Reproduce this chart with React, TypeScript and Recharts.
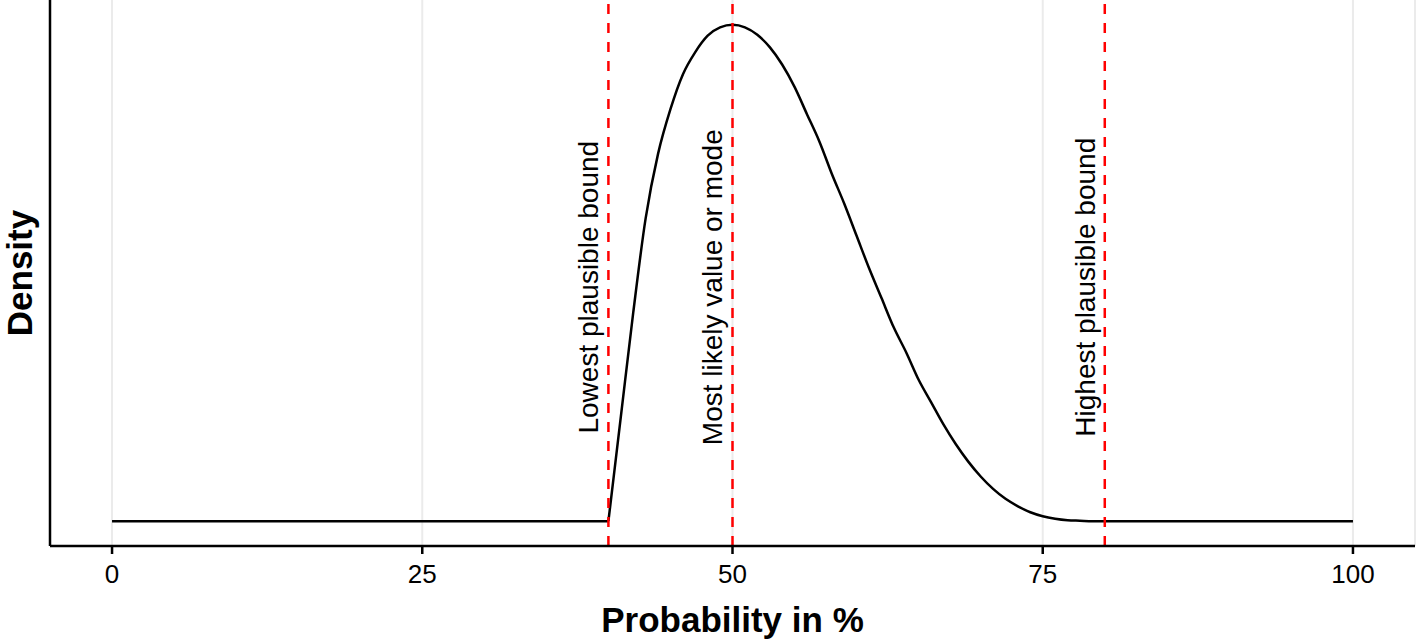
import {
  CartesianGrid,
  Label,
  Line,
  LineChart,
  ReferenceLine,
  XAxis,
  YAxis,
} from 'recharts';

// x positions (probability in %) and relative density
const probability = [
  0, 40, 41, 42, 43, 44, 45, 46, 47, 48, 49, 50, 51, 52, 53, 54, 55, 56, 57, 58, 59, 60,
  61, 62, 63, 64, 65, 66, 67, 68, 69, 70, 71, 72, 73, 74, 75, 76, 77, 78, 79, 80, 100,
];
const density = [
  0, 0, 0.21, 0.42, 0.61, 0.74, 0.83, 0.9, 0.945, 0.978, 0.995, 1, 0.995, 0.98, 0.955, 0.92,
  0.875, 0.82, 0.765, 0.7, 0.64, 0.575, 0.51, 0.45, 0.39, 0.34, 0.285, 0.24, 0.195, 0.155,
  0.12, 0.09, 0.065, 0.045, 0.03, 0.018, 0.01, 0.005, 0.002, 0.001, 0, 0, 0,
];

const xTicks = [0, 25, 50, 75, 100];

const lowerBound = 40;
const mode = 50;
const upperBound = 80;

const markers = [
  { x: lowerBound, label: 'Lowest plausible bound' },
  { x: mode, label: 'Most likely value or mode' },
  { x: upperBound, label: 'Highest plausible bound' },
];

// the hump between the bounds is drawn smooth, the flat tails straight
const data = probability.map((p, i) => {
  const inside = p >= lowerBound && p <= upperBound;
  const edge = p <= lowerBound || p >= upperBound;
  return {
    p,
    hump: inside ? density[i] : null,
    tail: edge ? density[i] : null,
  };
});
const yMax = Math.max(...density);

const FONT = '"Liberation Sans", Arial, Helvetica, sans-serif';

function MarkerLabel({ viewBox, value }: any) {
  const x = viewBox.x - 10;
  const y = viewBox.y + viewBox.height * 0.526;
  return (
    <text
      x={x}
      y={y}
      transform={`rotate(-90, ${x}, ${y})`}
      textAnchor="middle"
      fontFamily={FONT}
      fontSize={28}
      fill="#000"
    >
      {value}
    </text>
  );
}

export default function App() {
  return (
    <div style={{ position: 'absolute', left: 0, top: 0, width: 1418, height: 643, background: '#fff' }}>
      <LineChart
        width={1418}
        height={643}
        data={data}
        margin={{ top: 0, right: 3, bottom: 0, left: 0 }}
      >
        <CartesianGrid horizontal={false} stroke="#EBEBEB" strokeWidth={2} />
        <XAxis
          dataKey="p"
          type="number"
          domain={[-5, 105]}
          ticks={xTicks}
          height={97}
          axisLine={{ stroke: '#000', strokeWidth: 2.5 }}
          tickLine={{ stroke: '#000', strokeWidth: 2.5 }}
          tickSize={8}
          tickMargin={11}
          tick={{ fill: '#000', fontSize: 26, fontFamily: FONT }}
        >
          <Label
            content={({ viewBox }: any) => (
              <text
                x={viewBox.x + viewBox.width / 2}
                y={viewBox.y + 86}
                textAnchor="middle"
                fontFamily={FONT}
                fontWeight="bold"
                fontSize={35}
                fill="#000"
              >
                Probability in %
              </text>
            )}
          />
        </XAxis>
        <YAxis
          type="number"
          domain={[-0.05 * yMax, 1.05 * yMax]}
          width={50}
          tick={false}
          tickLine={false}
          axisLine={{ stroke: '#000', strokeWidth: 2.5 }}
        >
          <Label
            content={({ viewBox }: any) => {
              const x = 32;
              const y = viewBox.y + viewBox.height / 2;
              return (
                <text
                  x={x}
                  y={y}
                  transform={`rotate(-90, ${x}, ${y})`}
                  textAnchor="middle"
                  fontFamily={FONT}
                  fontWeight="bold"
                  fontSize={35}
                  fill="#000"
                >
                  Density
                </text>
              );
            }}
          />
        </YAxis>
        <Line
          type="linear"
          dataKey="tail"
          stroke="#000"
          strokeWidth={2.5}
          dot={false}
          activeDot={false}
          isAnimationActive={false}
        />
        <Line
          type="monotone"
          dataKey="hump"
          stroke="#000"
          strokeWidth={2.5}
          dot={false}
          activeDot={false}
          isAnimationActive={false}
        />
        {markers.map((m) => (
          <ReferenceLine
            key={m.x}
            x={m.x}
            stroke="#FF0000"
            strokeWidth={2.5}
            strokeDasharray="10 9"
            label={<MarkerLabel value={m.label} />}
          />
        ))}
      </LineChart>
    </div>
  );
}
